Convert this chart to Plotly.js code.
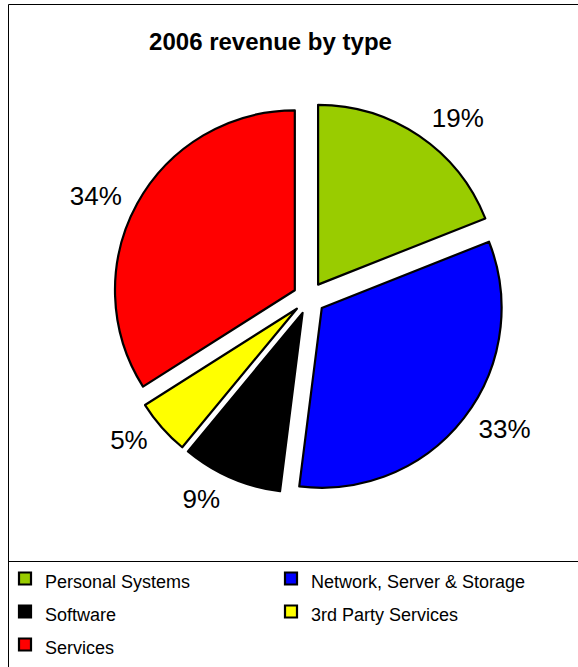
<!DOCTYPE html>
<html>
<head>
<meta charset="utf-8">
<script src="https://cdn.plot.ly/plotly-3.0.1.min.js"></script>
<style>
  html, body { margin: 0; padding: 0; background: #ffffff; }
  #chart { width: 578px; height: 667px; }
</style>
</head>
<body>
<div id="chart"></div>
<script>
// ---- data ----
const categories = ["Personal Systems", "Network, Server & Storage", "Software", "3rd Party Services", "Services"];
const shares = [19, 33, 9, 5, 34];
const sliceColors = ["#99CC00", "#0000FF", "#000000", "#FFFF00", "#FF0000"];
const chartTitle = "2006 revenue by type";

const W = 578, H = 667;
const FONT = "'Liberation Sans', Arial, sans-serif";
const px = v => v / W;
const py = v => 1 - v / H;

// legend entries: keep the label text, sized to 18px inside a taller legend row
const legendLabels = categories.map(c => '<span style="font-size:18px">' + c + '</span>');

const mainPie = {
  type: "pie",
  labels: legendLabels,
  values: shares,
  sort: false,
  direction: "clockwise",
  rotation: 0,
  pull: 0.09,
  marker: { colors: sliceColors, line: { color: "#000000", width: 2.2 } },
  textinfo: "none",
  hoverinfo: "skip",
  domain: { x: [px(113), px(505)], y: [py(494), py(102)] },
  showlegend: true
};

// transparent companion pie (same data) that carries the percentage labels further out
const labelPie = {
  type: "pie",
  labels: legendLabels,
  values: shares,
  sort: false,
  direction: "clockwise",
  rotation: 0,
  marker: { colors: shares.map(() => "rgba(0,0,0,0)"), line: { width: 0 } },
  textinfo: "percent",
  textposition: "outside",
  textfont: { family: FONT, size: 26, color: "#000000" },
  outsidetextfont: { family: FONT, size: 26, color: "#000000" },
  hoverinfo: "skip",
  domain: { x: [px(104), px(514)], y: [py(503), py(93)] },
  showlegend: false
};

const layout = {
  width: W,
  height: H,
  margin: { l: 0, r: 0, t: 0, b: 0, pad: 0 },
  paper_bgcolor: "#ffffff",
  plot_bgcolor: "#ffffff",
  font: { family: FONT, color: "#000000" },
  title: {
    text: chartTitle,
    font: { family: FONT, size: 24, color: "#000000", weight: "bold" },
    x: px(270.5), xanchor: "center",
    y: py(42), yanchor: "middle",
    xref: "paper", yref: "paper"
  },
  showlegend: true,
  legend: {
    orientation: "h",
    x: px(5), xanchor: "left",
    y: 0, yanchor: "bottom",
    bgcolor: "rgba(0,0,0,0)",
    borderwidth: 0,
    font: { family: FONT, size: 23.08, color: "#000000" },
    entrywidth: 221,
    entrywidthmode: "pixels",
    traceorder: "normal"
  },
  shapes: [
    { type: "rect", xref: "paper", yref: "paper",
      x0: px(8.5), x1: 1.05, y0: -0.05, y1: py(4.5),
      line: { color: "#000000", width: 1 }, fillcolor: "rgba(0,0,0,0)", layer: "below" },
    { type: "line", xref: "paper", yref: "paper",
      x0: px(8.5), x1: 1.05, y0: py(561.5), y1: py(561.5),
      line: { color: "#000000", width: 1 }, layer: "below" }
  ]
};

Plotly.newPlot("chart", [mainPie, labelPie], layout, { displayModeBar: false, staticPlot: true });
</script>
</body>
</html>
